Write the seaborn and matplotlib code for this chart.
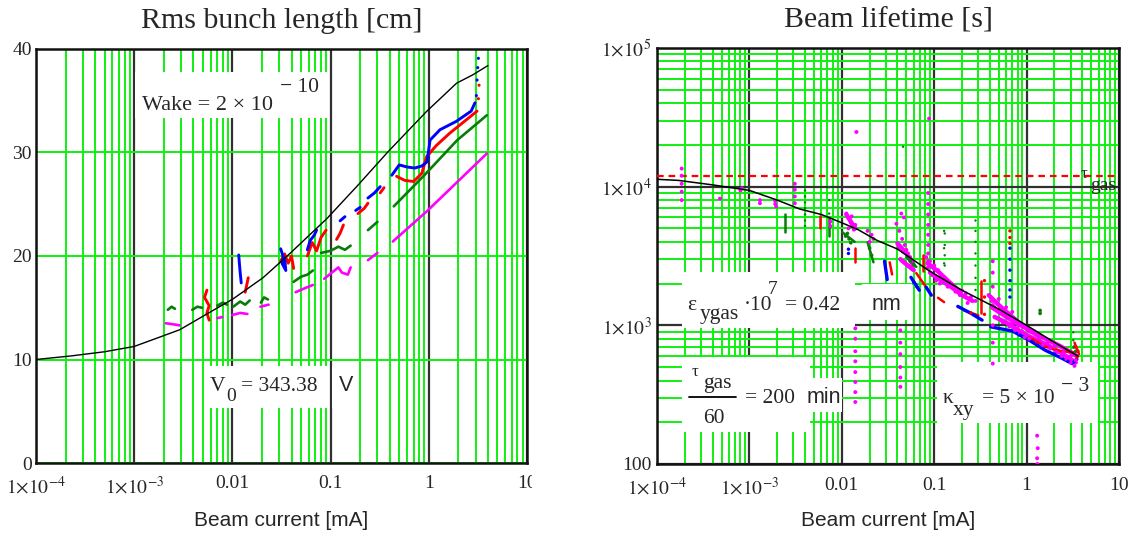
import numpy as np
import pandas as pd
import matplotlib
matplotlib.use("Agg")
import matplotlib.pyplot as plt
import matplotlib.transforms as mtransforms
import seaborn as sns
from matplotlib.patches import Rectangle
from matplotlib.lines import Line2D
from matplotlib.ticker import LogLocator, NullFormatter
from matplotlib.transforms import Bbox, TransformedBbox

# ---------------------------------------------------------------- data
# Left panel: rms bunch length [cm] versus beam current [mA]
len_model_I = [1e-4, 2.3e-4, 5e-4, 1e-3, 2.9e-3, 6.7e-3, 0.0101, 0.0205, 0.0387,
               0.0913, 0.184, 0.387, 0.95, 1.92, 2.8, 4.0]
len_model_L = [10.0, 10.35, 10.75, 11.26, 12.87, 14.87, 15.84, 17.9, 20.26,
               23.6, 26.7, 30.1, 33.97, 36.7, 37.5, 38.4]

len_blue_I = [0.0116, 0.0118, 0.012, 0.0123,
              0.031, 0.033, 0.032, 0.035, 0.034,
              0.058, 0.062, 0.068, 0.072,
              0.125, 0.14,
              0.18, 0.2,
              0.24, 0.28, 0.32,
              0.42, 0.5, 0.6, 0.72, 0.85, 0.96, 1.03, 1.3, 1.9, 2.7, 2.95]
len_blue_L = [20.1, 19.2, 18.4, 17.4,
              20.7, 19.9, 19.3, 18.6, 19.8,
              20.6, 21.5, 22.0, 22.5,
              23.4, 23.8,
              24.4, 24.7,
              25.6, 26.1, 26.7,
              27.8, 28.8, 28.6, 28.5, 28.7, 29.1, 31.2, 32.2, 33.0, 34.0, 34.8]
len_blue_seg = [0] * 4 + [1] * 5 + [2] * 4 + [3] * 2 + [4] * 2 + [5] * 3 + [6] * 11
len_blue_dot_I = [3.05, 3.1, 3.15, 3.2]
len_blue_dot_L = [35.5, 37.0, 38.2, 39.1]

len_red_I = [0.0055, 0.0052, 0.0058, 0.0055, 0.0058,
             0.0135, 0.014, 0.0145,
             0.031, 0.034, 0.037, 0.040, 0.042,
             0.058, 0.065, 0.072, 0.08, 0.09,
             0.115, 0.125, 0.135,
             0.19, 0.22, 0.24,
             0.32, 0.35,
             0.47, 0.57, 0.7, 0.85, 0.95, 1.2, 1.65, 2.3, 3.1]
len_red_L = [16.7, 16.0, 15.2, 14.5, 13.8,
             16.5, 17.2, 17.9,
             19.5, 20.2, 19.3, 20.0, 18.8,
             20.0, 21.3, 20.5, 21.8, 22.5,
             21.6, 22.2, 23.0,
             24.1, 24.6, 25.1,
             26.1, 26.6,
             27.7, 27.3, 27.2, 28.0, 29.6, 30.7, 31.9, 33.0, 34.0]
len_red_seg = [0] * 5 + [1] * 3 + [2] * 5 + [3] * 5 + [4] * 3 + [5] * 3 + [6] * 2 + [7] * 9
len_red_dot_I = [3.2, 3.25]
len_red_dot_L = [35.2, 36.5]

len_green_I = [0.0022, 0.0024, 0.0026,
               0.0039, 0.0044, 0.0049,
               0.0070, 0.0080, 0.0088,
               0.0102, 0.012, 0.0135, 0.015,
               0.0195, 0.021, 0.023,
               0.042, 0.05, 0.058, 0.066,
               0.08, 0.1, 0.12, 0.14, 0.16,
               0.24, 0.3,
               0.44, 0.9, 1.95, 3.9]
len_green_L = [14.8, 15.1, 14.9,
               14.8, 15.1, 15.0,
               15.2, 15.5, 15.3,
               15.1, 15.6, 15.3, 15.7,
               15.5, 16.0, 15.8,
               17.5, 18.0, 18.2, 18.6,
               20.3, 20.5, 20.9, 20.6, 21.0,
               22.5, 23.3,
               24.8, 27.8, 31.2, 33.6]
len_green_seg = [0] * 3 + [1] * 3 + [2] * 3 + [3] * 4 + [4] * 3 + [5] * 4 + [6] * 5 + [7] * 2 + [8] * 4

len_mag_I = [0.0021, 0.0025, 0.0029,
             0.0070, 0.0079,
             0.0100, 0.012, 0.0142,
             0.0193, 0.0234,
             0.044, 0.055, 0.066,
             0.086, 0.1, 0.12, 0.13, 0.15, 0.16,
             0.24, 0.3,
             0.43, 0.95, 3.9]
len_mag_L = [13.5, 13.4, 13.3,
             14.0, 14.1,
             14.3, 14.5, 14.4,
             15.1, 15.3,
             16.5, 16.9, 17.2,
             17.8, 18.3, 18.9, 18.4, 18.2, 18.9,
             19.6, 20.3,
             21.4, 24.3, 29.9]
len_mag_seg = [0] * 3 + [1] * 2 + [2] * 3 + [3] * 2 + [4] * 3 + [5] * 6 + [6] * 2 + [7] * 3

# Right panel: beam lifetime [s] versus beam current [mA]
tau_gas_s = 200 * 60
life_model_I = [1e-4, 1.7e-4, 4e-4, 1e-3, 2e-3, 3.5e-3, 6e-3, 0.0093, 0.015,
                0.024, 0.04, 0.09, 0.2, 0.5, 1.0, 2.0, 3.6]
life_model_tau = [11300, 11100, 10300, 9400, 8000, 6900, 6300, 5600, 4900,
                  4100, 3550, 2450, 1790, 1310, 1000, 753, 600]

life_mag_trace_I = [0.39, 0.5, 0.7, 0.9, 1.1,
                    0.45, 0.6, 0.8, 1.0, 1.3, 1.7, 2.2, 2.8, 3.4,
                    1.2, 1.6, 2.2, 3.0, 3.5,
                    0.085, 0.11, 0.14, 0.19,
                    0.04, 0.05, 0.058,
                    0.0112, 0.0125, 0.014,
                    0.42, 0.55, 0.75, 1.0, 1.4,
                    0.09, 0.12, 0.16, 0.2, 0.26,
                    0.043, 0.05, 0.06]
life_mag_trace_tau = [1650, 1400, 1150, 1000, 900,
                      1150, 1050, 930, 850, 780, 720, 650, 590, 540,
                      900, 800, 720, 640, 600,
                      2800, 2450, 2100, 1750,
                      3900, 3300, 2800,
                      6300, 5600, 5000,
                      1350, 1200, 1050, 950, 820,
                      2400, 2100, 1850, 1650, 1500,
                      3000, 2750, 2500]
life_mag_trace_seg = ([0] * 5 + [1] * 9 + [2] * 5 + [3] * 4 + [4] * 3 + [5] * 3
                      + [6] * 5 + [7] * 5 + [8] * 3)

life_mag_I = [1.85e-4, 1.85e-4, 1.85e-4, 1.85e-4, 1.85e-4, 4.8e-4, 8e-4, 8.3e-4,
              1.3e-3, 1.3e-3, 1.9e-3, 1.9e-3, 1.95e-3, 3.1e-3, 3.1e-3, 3.1e-3, 3.1e-3,
              7.5e-3, 7.5e-3,
              0.0112, 0.012, 0.0125, 0.013, 0.0118, 0.0135, 0.0128, 0.014,
              0.0144, 0.088,
              0.019, 0.021, 0.022, 0.02,
              0.039, 0.042, 0.045, 0.048, 0.05, 0.052, 0.055, 0.058, 0.046, 0.041,
              0.053, 0.057, 0.044, 0.047,
              0.082, 0.09, 0.1, 0.11, 0.12, 0.13, 0.145, 0.16, 0.18, 0.095, 0.105,
              0.115, 0.14, 0.17, 0.19, 0.085,
              0.086, 0.086, 0.086, 0.086, 0.086, 0.086, 0.086, 0.086,
              0.014, 0.014, 0.014, 0.014, 0.014, 0.014, 0.014, 0.014,
              0.043, 0.043, 0.043, 0.043, 0.043, 0.043,
              0.2, 0.22, 0.25, 0.28, 0.23,
              0.42, 0.45, 0.5, 0.55, 0.6, 0.7, 0.8, 0.9, 1.0, 1.07, 0.55, 0.65,
              0.75, 0.85, 0.95, 0.5, 0.6, 0.7,
              0.43, 0.43, 0.43, 0.43, 0.43, 0.43, 0.43,
              1.3, 1.5, 1.8, 2.1, 2.4, 2.7, 3.0, 3.3, 1.4, 1.7, 2.0, 2.5, 3.0, 3.4,
              1.3, 1.32, 1.3, 1.31]
life_mag_tau = [13500, 12000, 10500, 9200, 8000, 8200, 9400, 9700,
                8000, 7600, 7900, 7500, 7200, 10500, 9500, 8500, 7600,
                5600, 5200,
                6400, 5900, 5500, 5200, 5000, 4900, 6100, 5300,
                24800, 31000,
                4800, 4500, 4200, 4000,
                5400, 4800, 4200, 3800, 3500, 3300, 3100, 2900, 3400, 3600,
                2700, 2650, 6400, 6000,
                3100, 2900, 2700, 2500, 2300, 2200, 2000, 1900, 1800, 2300, 2100,
                2000, 1900, 1750, 1650, 2600,
                9000, 7500, 6300, 5300, 4500, 3800, 3300, 2900,
                950, 800, 650, 550, 460, 390, 330, 280,
                920, 750, 620, 500, 420, 360,
                1780, 1700, 1600, 1500, 1450,
                1500, 1350, 1250, 1200, 1150, 1050, 950, 900, 850, 800, 1050, 980,
                920, 870, 820, 1550, 1350, 1250,
                2900, 2400, 1900, 1400, 1000, 750, 530,
                760, 720, 680, 640, 600, 570, 540, 510, 820, 760, 700, 640, 600, 560,
                160, 130, 110, 100]

life_blue_trace_I = [0.41, 0.7, 1.07, 1.6, 2.4, 3.1, 3.5,
                     0.18, 0.25, 0.33,
                     0.056, 0.069,
                     0.029, 0.031,
                     0.082, 0.093]
life_blue_trace_tau = [975, 910, 780, 660, 580, 530, 570,
                       1370, 1220, 1090,
                       2220, 1790,
                       2900, 2140,
                       1880, 1650]
life_blue_trace_seg = [0] * 7 + [1] * 3 + [2] * 2 + [3] * 2 + [4] * 2
life_blue_I = [0.0118, 0.0118, 0.66, 0.66, 0.66, 0.66, 0.66, 0.66, 0.5, 0.85,
               1.3, 2.0, 2.8, 0.06, 0.065]
life_blue_tau = [3540, 3300, 3600, 3000, 2500, 2100, 1800, 1600, 950, 850,
                 720, 620, 550, 2050, 1900]

life_red_trace_I = [1.07, 1.6, 2.4, 3.2,
                    0.21, 0.3,
                    0.32, 0.32,
                    0.064, 0.082,
                    0.033, 0.035,
                    0.0139, 0.0139,
                    0.0058, 0.0058,
                    0.0756, 0.0756,
                    3.3, 3.7,
                    0.11, 0.128]
life_red_trace_tau = [820, 700, 650, 640,
                      1280, 1180,
                      2100, 1220,
                      2380, 1880,
                      2850, 2330,
                      3600, 2850,
                      6100, 5000,
                      3200, 2480,
                      750, 620,
                      1580, 1470]
life_red_trace_seg = ([0] * 4 + [1] * 2 + [2] * 2 + [3] * 2 + [4] * 2 + [5] * 2
                      + [6] * 2 + [7] * 2 + [8] * 2 + [9] * 2)
life_red_I = [0.66, 0.66, 0.66, 0.35, 0.35, 0.35, 3.4, 3.6, 3.5, 1.3, 0.25]
life_red_tau = [4800, 4300, 3900, 2100, 1600, 1200, 700, 650, 590, 760, 1230]

life_green_trace_I = [0.0101, 0.0138, 0.019, 0.022, 0.05, 0.064,
                      0.0073, 0.0073, 0.0024, 0.0024]
life_green_trace_tau = [4700, 4000, 3980, 2850, 3100, 2640,
                        6050, 4400, 6300, 4700]
life_green_trace_seg = [0] * 2 + [1] * 2 + [2] * 2 + [3] * 2 + [4] * 2
life_green_I = [0.011, 0.012, 0.0115, 0.0125, 0.02, 0.021, 0.055, 0.06,
                1.4, 1.4, 3.3, 3.4]
life_green_tau = [4400, 4200, 4600, 3940, 3600, 3200, 2900, 2750,
                  1280, 1220, 700, 650]

life_dark_I = [0.004, 0.004, 0.004, 0.004, 0.004, 0.004, 0.004,
               0.0073, 0.0073, 0.0073,
               0.13, 0.13, 0.13, 0.13, 0.13,
               0.28, 0.28, 0.28, 0.28, 0.28, 0.28, 0.28, 0.28,
               0.128, 0.128, 0.128,
               3.2, 3.2, 3.2, 0.046]
life_dark_tau = [9400, 8500, 7700, 7000, 6300, 5700, 5200,
                 9900, 8000, 6400,
                 4600, 3800, 3200, 2700, 2220,
                 5700, 4800, 4000, 3300, 2700, 2200, 1800, 1500,
                 4800, 3600, 2800,
                 890, 780, 690, 19400]

x_ticks = [1e-4, 1e-3, 0.01, 0.1, 1, 10]
x_tick_labels = [r"$1{\times}10^{-4}$", r"$1{\times}10^{-3}$", "0.01", "0.1", "1", "10"]
len_ticks = [0, 10, 20, 30, 40]
life_ticks = [100, 1e3, 1e4, 1e5]
life_tick_labels = ["100", r"$1{\times}10^{3}$", r"$1{\times}10^{4}$", r"$1{\times}10^{5}$"]

# ---------------------------------------------------------------- style
sns.set_theme(style="white")
plt.rcParams["font.family"] = ["Liberation Serif", "DejaVu Serif"]
plt.rcParams["mathtext.fontset"] = "stix"

GRID_GREEN = "#10f010"
DECADE = "#303030"
BLUE, RED, DGREEN, MAG = "#0000ff", "#ff0000", "#0a7a0a", "#ff00ff"
SERIF = ["Liberation Serif", "DejaVu Serif"]
SANS = ["Liberation Sans", "DejaVu Sans"]

W, H = 1140, 546
fig = plt.figure(figsize=(W / 100, H / 100), dpi=100)
fig.patch.set_facecolor("white")


def fx(x):
    return x / W


def fy(y):
    return 1 - y / H


ax1 = fig.add_axes([fx(36), fy(463), (527 - 36) / W, (463 - 49) / H])
ax2 = fig.add_axes([fx(657), fy(464), (1119 - 657) / W, (464 - 48) / H])

for ax in (ax1, ax2):
    ax.set_facecolor("white")
    ax.set_xscale("log")
    ax.set_xlim(1e-4, 10)
    ax.set_axisbelow(True)
    ax.xaxis.set_minor_locator(LogLocator(base=10, subs=np.arange(2, 10), numticks=100))
    ax.xaxis.set_minor_formatter(NullFormatter())
    ax.set_xticks(x_ticks, x_tick_labels)
    ax.grid(which="minor", axis="x", color=GRID_GREEN, lw=1.4)
    ax.grid(which="major", axis="x", color=DECADE, lw=1.6)
    ax.tick_params(which="both", length=0, labelsize=14, pad=9)
    for s in ax.spines.values():
        s.set_color("#111111")
        s.set_linewidth(1.8)
        s.set_visible(True)

ax1.set_ylim(0, 40)
ax1.set_yticks(len_ticks)
ax1.grid(which="major", axis="y", color=GRID_GREEN, lw=1.4)
ax1.tick_params(axis="y", pad=3)

ax2.set_yscale("log")
ax2.set_ylim(100, 1e5)
ax2.yaxis.set_minor_locator(LogLocator(base=10, subs=np.arange(2, 10), numticks=100))
ax2.yaxis.set_minor_formatter(NullFormatter())
ax2.set_yticks(life_ticks, life_tick_labels)
ax2.grid(which="minor", axis="y", color=GRID_GREEN, lw=1.4)
ax2.grid(which="major", axis="y", color=DECADE, lw=1.6)
ax2.tick_params(axis="y", pad=4)


def white_box(ax, x0, y0, x1, y1):
    ax.add_patch(Rectangle((fx(x0), fy(y1)), (x1 - x0) / W, (y1 - y0) / H,
                           transform=fig.transFigure, facecolor="white",
                           edgecolor="none", zorder=1, clip_on=False))


def put(ax, x, y, s, size=15.5, family=None, **kw):
    kw.setdefault("va", "baseline")
    kw.setdefault("ha", "left")
    ax.text(fx(x), fy(y), s, transform=fig.transFigure, fontsize=size,
            family=family if family is not None else SERIF, zorder=6, **kw)


def traces(ax, I, y, seg, color, lw):
    df = pd.DataFrame({"I": I, "y": y, "seg": seg})
    sns.lineplot(data=df, x="I", y="y", units="seg", estimator=None, sort=False,
                 color=color, lw=lw, ax=ax, legend=False, zorder=3)


# ---------------------------------------------------------------- left panel
white_box(ax1, 135, 72, 327, 118)
white_box(ax1, 208, 366, 328, 408)
white_box(ax1, 332, 366, 359, 408)

sns.lineplot(x=len_model_I, y=len_model_L, color="black", lw=1.0, ax=ax1,
             estimator=None, sort=False, zorder=4)
traces(ax1, len_mag_I, len_mag_L, len_mag_seg, MAG, 1.9)
traces(ax1, len_green_I, len_green_L, len_green_seg, DGREEN, 1.9)
traces(ax1, len_red_I, len_red_L, len_red_seg, RED, 2.1)
traces(ax1, len_blue_I, len_blue_L, len_blue_seg, BLUE, 2.1)
sns.scatterplot(x=len_blue_dot_I, y=len_blue_dot_L, color=BLUE, s=5,
                edgecolor="none", ax=ax1, zorder=3)
sns.scatterplot(x=len_red_dot_I, y=len_red_dot_L, color=RED, s=5,
                edgecolor="none", ax=ax1, zorder=3)
ax1.set_xlabel("")
ax1.set_ylabel("")

put(ax1, 142, 110, "Wake = 2 \u00d7 10", size=16)
put(ax1, 280, 92, "\u2212 10", size=15.5)
put(ax1, 210, 391, "V")
put(ax1, 226, 401, "0", size=14)
put(ax1, 241, 391, "= 343.38")
put(ax1, 339, 391, "V", family=SANS)

# the last x label of the left panel is cut by its region edge
for lbl in ax1.get_xticklabels():
    if lbl.get_text() == "10":
        lbl.set_clip_box(TransformedBbox(Bbox([[0, 0], [fx(532), 1]]), fig.transFigure))
        lbl.set_clip_on(True)

# ---------------------------------------------------------------- right panel
white_box(ax2, 682, 272, 855, 328)
white_box(ax2, 862, 284, 912, 320)
white_box(ax2, 682, 357, 810, 432)
white_box(ax2, 803, 378, 842, 412)
white_box(ax2, 937, 362, 1098, 423)

ax2.axhline(tau_gas_s, color=RED, lw=1.6, ls=(0, (3, 2.2)), zorder=3)
traces(ax2, life_mag_trace_I, life_mag_trace_tau, life_mag_trace_seg, MAG, 3.2)
traces(ax2, life_green_trace_I, life_green_trace_tau, life_green_trace_seg, DGREEN, 1.8)
traces(ax2, life_red_trace_I, life_red_trace_tau, life_red_trace_seg, RED, 1.8)
traces(ax2, life_blue_trace_I, life_blue_trace_tau, life_blue_trace_seg, BLUE, 2.4)
for I, t, c, s in ((life_dark_I, life_dark_tau, DGREEN, 3),
                   (life_mag_I, life_mag_tau, MAG, 8),
                   (life_green_I, life_green_tau, DGREEN, 7),
                   (life_red_I, life_red_tau, RED, 6),
                   (life_blue_I, life_blue_tau, BLUE, 6)):
    sns.scatterplot(x=I, y=t, color=c, s=s, edgecolor="none", ax=ax2, zorder=3)
sns.lineplot(x=life_model_I, y=life_model_tau, color="black", lw=1.1, ax=ax2,
             estimator=None, sort=False, zorder=4)
ax2.set_xlabel("")
ax2.set_ylabel("")

put(ax2, 1081, 178, "\u03c4", size=12)
put(ax2, 1090, 190, "gas", size=14)

put(ax2, 687, 310, "\u03b5")
put(ax2, 700, 319, "ygas")
put(ax2, 744, 310, "\u00b710")
put(ax2, 768, 294, "7", size=14)
put(ax2, 785, 310, "= 0.42")
put(ax2, 872, 310, "nm", family=SANS)

put(ax2, 692, 376, "\u03c4", size=12)
put(ax2, 703, 388, "gas")
ax2.add_line(Line2D([fx(689), fx(736)], [fy(397), fy(397)], transform=fig.transFigure,
                    color="black", lw=1.3, zorder=6, clip_on=False))
put(ax2, 703, 423, "60")
put(ax2, 745, 403, "= 200")
put(ax2, 807, 403, "min", family=SANS)

put(ax2, 943, 403, "\u03ba")
put(ax2, 953, 415, "xy")
put(ax2, 982, 403, "= 5 \u00d7 10")
put(ax2, 1061, 391, "\u2212 3")

# ---------------------------------------------------------------- titles and labels
for ax, title in ((ax1, "Rms bunch length [cm]"), (ax2, "Beam lifetime [s]")):
    ax.set_title(title, fontsize=21.5, pad=15, family=SERIF)
    ax.text(0.5, fy(526), "Beam current [mA]",
            transform=mtransforms.blended_transform_factory(ax.transAxes, fig.transFigure),
            ha="center", va="baseline", fontsize=15, family=SANS)

fig.savefig("out.png", dpi=100, facecolor="white")
